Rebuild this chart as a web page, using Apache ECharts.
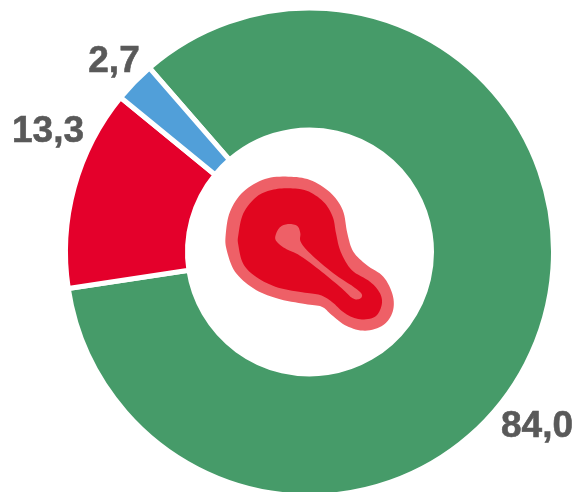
<!DOCTYPE html>
<html><head><meta charset="utf-8">
<style>html,body{margin:0;padding:0;background:#fff}#c{width:579px;height:492px}</style>
<script src="https://cdn.jsdelivr.net/npm/echarts@6/dist/echarts.min.js"></script>
</head><body><div id="c"></div>
<script>
const categories = ['Green', 'Red', 'Blue'];
const values = [84.0, 13.3, 2.7];
const valueLabels = ['84,0', '13,3', '2,7'];
const colors = ['#469b69', '#e4002b', '#519fd9'];
const labelSpots = [[537, 427], [48, 132], [114, 62]];

// Icon outlines, traced in a 3x crop whose corner is (210,160)
const iconOuter = [[235,50],[300,60],[360,97],[398,150],[412,220],[430,275],[470,315],[520,350],[548,405],[548,455],[520,495],[465,512],[410,498],[365,465],[335,440],[285,432],[200,415],[130,385],[75,335],[50,270],[47,225],[60,155],[100,95],[165,57]];
const iconInner = [[235,85],[290,92],[340,125],[368,170],[378,220],[392,275],[425,330],[480,365],[510,400],[515,435],[495,470],[450,478],[405,460],[365,425],[330,405],[285,398],[205,383],[140,352],[100,312],[85,255],[85,225],[100,160],[140,110],[185,90]];
const iconCore = [[237,192],[262,198],[271,220],[272,245],[300,280],[370,340],[430,380],[455,402],[450,416],[428,415],[395,385],[335,335],[270,287],[225,265],[198,242],[198,222],[212,200]];

// Rounds a traced outline with a closed Catmull-Rom curve and maps it to page pixels
function outline(pts) {
  const out = [], n = pts.length, steps = 8;
  for (let i = 0; i < n; i++) {
    const a = pts[(i + n - 1) % n], b = pts[i], c = pts[(i + 1) % n], d = pts[(i + 2) % n];
    for (let s = 0; s < steps; s++) {
      const t = s / steps, t2 = t * t, t3 = t2 * t;
      const f = k => 0.5 * (2 * b[k] + (c[k] - a[k]) * t + (2 * a[k] - 5 * b[k] + 4 * c[k] - d[k]) * t2 + (3 * b[k] - a[k] - 3 * c[k] + d[k]) * t3);
      out.push([210 + f(0) / 3, 160 + f(1) / 3]);
    }
  }
  return out;
}
const blob = (pts, fill) => ({ type: 'polygon', silent: true, shape: { points: outline(pts) }, style: { fill } });

const chart = echarts.init(document.getElementById('c'), null, { renderer: 'canvas' });
chart.setOption({
  animation: false,
  series: [{
    type: 'pie',
    center: [309.5, 252],
    radius: [122, 244],
    startAngle: 131,
    clockwise: true,
    silent: true,
    data: categories.map((name, i) => ({ name, value: values[i], itemStyle: { color: colors[i] } })),
    itemStyle: { borderColor: '#fff', borderWidth: 5 },
    label: {
      show: true,
      position: 'inside',
      rotate: 0,
      formatter: p => valueLabels[p.dataIndex],
      fontFamily: 'Liberation Sans',
      fontWeight: 'bold',
      fontSize: 37,
      color: '#595959',
      textBorderColor: '#595959',
      textBorderWidth: 0.6
    },
    labelLine: { show: false },
    labelLayout: p => ({ x: labelSpots[p.dataIndex][0], y: labelSpots[p.dataIndex][1], align: 'center', verticalAlign: 'middle' })
  }],
  graphic: [blob(iconOuter, '#ee6067'), blob(iconInner, '#e1061f'), blob(iconCore, '#ee6067')]
});
</script></body></html>
